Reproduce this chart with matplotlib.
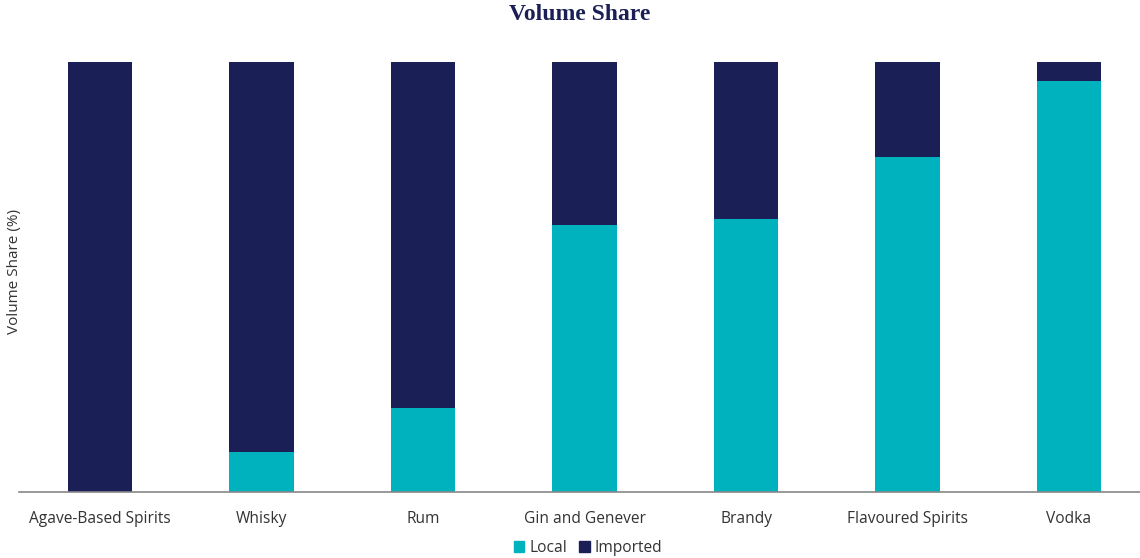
import numpy as np
import matplotlib
matplotlib.use("Agg")
import matplotlib.pyplot as plt
from matplotlib.patches import Patch

plt.rcParams['font.family'] = ['Open Sans', 'DejaVu Sans']

# volume share by spirit category, local vs imported (%)
categories = ["Agave-Based Spirits", "Whisky", "Rum", "Gin and Genever",
              "Brandy", "Flavoured Spirits", "Vodka"]
local = [0.0, 9.3, 19.5, 62.0, 63.6, 78.0, 95.6]
imported = [100 - v for v in local]

LOCAL_C = "#00b2bd"
IMPORT_C = "#1a1f55"

fig = plt.figure(figsize=(11.4, 5.58), dpi=100)
ax = fig.add_axes([19.25 / 1140, 1 - 492 / 558, 1130.5 / 1140, 430 / 558])

x = np.arange(len(categories))
ax.bar(x, local, width=0.4, color=LOCAL_C)
ax.bar(x, imported, width=0.4, bottom=local, color=IMPORT_C)

ax.set_xlim(-0.5, len(categories) - 0.5)
ax.set_ylim(0, 100)
ax.set_xticks(x)
ax.set_xticklabels(categories, fontsize=11.2, color="#333333")
ax.tick_params(axis="x", length=0, pad=14)
ax.set_yticks([])
for s in ["top", "right", "left"]:
    ax.spines[s].set_visible(False)
ax.spines["bottom"].set_color("#888888")
ax.spines["bottom"].set_linewidth(1.2)

fig.text(15 / 1140, 1 - 272 / 558, "Volume Share (%)", rotation=90,
         ha="center", va="center", fontsize=11, color="#333333")

fig.text(580 / 1140, 1 - 15 / 558, "Volume Share", ha="center", va="center",
         fontsize=17, fontweight="bold", color="#1a1f55",
         family=["Liberation Serif", "DejaVu Serif"])

handles = [Patch(color=LOCAL_C, label="Local"), Patch(color=IMPORT_C, label="Imported")]
fig.legend(handles=handles, loc="center", bbox_to_anchor=(588 / 1140, 1 - 548 / 558),
           ncol=2, frameon=False, fontsize=11.2, handlelength=0.7, handleheight=0.7,
           handletextpad=0.3, columnspacing=0.8, labelcolor="#333333")

fig.savefig("out.png", dpi=100)
